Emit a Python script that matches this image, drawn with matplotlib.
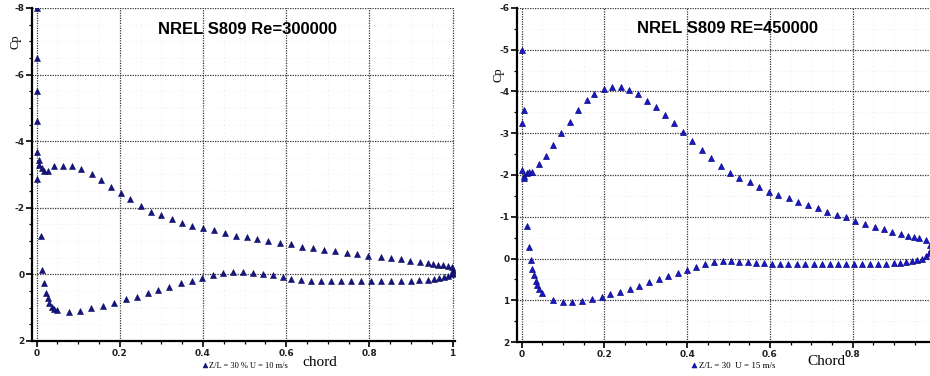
import numpy as np
import matplotlib.pyplot as plt
from matplotlib.ticker import MultipleLocator

# NREL S809, Re = 300000 (suction side / pressure side)
x_up_300 = [0.0, 0.0, 0.0, 0.001, 0.002, 0.005, 0.007, 0.012, 0.019, 0.027,
            0.043, 0.063, 0.084, 0.108, 0.133, 0.154, 0.178, 0.202, 0.224,
            0.251, 0.275, 0.299, 0.325, 0.349, 0.373, 0.4, 0.427, 0.453, 0.48,
            0.506, 0.53, 0.557, 0.586, 0.612, 0.639, 0.665, 0.692, 0.718, 0.747,
            0.771, 0.798, 0.827, 0.851, 0.875, 0.899, 0.923, 0.94, 0.954, 0.966,
            0.978, 0.988, 0.998, 1.0]
cp_up_300 = [-8.0, -6.5, -5.5, -4.6, -3.68, -3.44, -3.29, -3.2, -3.1, -3.1,
             -3.26, -3.26, -3.26, -3.17, -3.0, -2.83, -2.62, -2.44, -2.26,
             -2.05, -1.87, -1.78, -1.66, -1.54, -1.45, -1.39, -1.33, -1.24, -1.15,
             -1.12, -1.06, -1.0, -0.94, -0.91, -0.82, -0.79, -0.73, -0.7, -0.64,
             -0.61, -0.55, -0.52, -0.49, -0.46, -0.4, -0.37, -0.34, -0.31, -0.28,
             -0.28, -0.25, -0.22, -0.13]
x_lo_300 = [0.002, 0.01, 0.012, 0.017, 0.022, 0.027, 0.031, 0.036, 0.043, 0.05,
            0.077, 0.104, 0.132, 0.159, 0.186, 0.214, 0.241, 0.267, 0.292, 0.318,
            0.347, 0.373, 0.398, 0.424, 0.448, 0.472, 0.496, 0.52, 0.544, 0.568,
            0.592, 0.612, 0.636, 0.66, 0.684, 0.708, 0.732, 0.756, 0.78, 0.804,
            0.828, 0.852, 0.876, 0.9, 0.92, 0.94, 0.955, 0.968, 0.98, 0.99,
            0.998, 1.0]
cp_lo_300 = [-2.87, -1.15, -0.13, 0.26, 0.56, 0.71, 0.86, 0.98, 1.04, 1.07,
             1.13, 1.1, 1.01, 0.95, 0.86, 0.74, 0.68, 0.56, 0.47, 0.38,
             0.26, 0.2, 0.11, 0.02, -0.04, -0.07, -0.07, -0.04, -0.01, 0.02,
             0.08, 0.14, 0.17, 0.19, 0.2, 0.2, 0.2, 0.2, 0.2, 0.2,
             0.2, 0.2, 0.2, 0.19, 0.18, 0.16, 0.14, 0.11, 0.08, 0.05,
             0.0, -0.05]

# NREL S809, Re = 450000
x_up_450 = [0.002, 0.005, 0.002, 0.002, 0.005, 0.007, 0.012, 0.019, 0.026, 0.041,
            0.06, 0.077, 0.096, 0.116, 0.137, 0.157, 0.176, 0.198, 0.219, 0.241,
            0.26, 0.282, 0.304, 0.325, 0.347, 0.369, 0.39, 0.412, 0.436, 0.458,
            0.482, 0.504, 0.525, 0.552, 0.573, 0.598, 0.619, 0.646, 0.667, 0.692,
            0.716, 0.737, 0.761, 0.783, 0.805, 0.829, 0.853, 0.875, 0.896, 0.916,
            0.933, 0.947, 0.961, 0.978, 0.986, 0.988]
cp_up_450 = [-5.0, -3.56, -3.25, -2.12, -1.98, -1.93, -2.05, -2.07, -2.07, -2.26,
             -2.46, -2.72, -3.0, -3.27, -3.56, -3.8, -3.94, -4.06, -4.1, -4.1,
             -4.04, -3.94, -3.77, -3.63, -3.44, -3.25, -3.03, -2.81, -2.6, -2.41,
             -2.22, -2.05, -1.93, -1.83, -1.71, -1.59, -1.52, -1.45, -1.35, -1.28,
             -1.21, -1.11, -1.04, -0.99, -0.9, -0.83, -0.75, -0.71, -0.63, -0.59,
             -0.54, -0.51, -0.49, -0.44, -0.32, -0.16]
x_lo_450 = [0.012, 0.017, 0.024, 0.026, 0.029, 0.034, 0.038, 0.043, 0.05, 0.075,
            0.099, 0.123, 0.147, 0.171, 0.195, 0.214, 0.239, 0.263, 0.284, 0.308,
            0.333, 0.354, 0.378, 0.4, 0.422, 0.443, 0.465, 0.487, 0.506, 0.525,
            0.547, 0.566, 0.586, 0.605, 0.624, 0.643, 0.665, 0.684, 0.706, 0.726,
            0.745, 0.764, 0.783, 0.802, 0.822, 0.841, 0.86, 0.88, 0.9, 0.915,
            0.929, 0.944, 0.956, 0.968, 0.978, 0.984, 0.988]
cp_lo_450 = [-0.78, -0.27, 0.04, 0.25, 0.4, 0.54, 0.64, 0.73, 0.83, 0.99,
             1.05, 1.05, 1.02, 0.97, 0.92, 0.85, 0.8, 0.73, 0.66, 0.56,
             0.49, 0.42, 0.35, 0.28, 0.2, 0.13, 0.09, 0.06, 0.06, 0.08,
             0.08, 0.1, 0.11, 0.12, 0.12, 0.13, 0.13, 0.13, 0.13, 0.13,
             0.13, 0.13, 0.13, 0.13, 0.13, 0.12, 0.12, 0.12, 0.11, 0.1,
             0.08, 0.06, 0.04, 0.0, -0.06, -0.12, -0.22]

W, H = 930, 376
fig = plt.figure(figsize=(W / 100, H / 100), dpi=100)


def axes_px(x0, x1, y0, y1):
    return fig.add_axes([x0 / W, 1 - y1 / H, (x1 - x0) / W, (y1 - y0) / H])


def style(ax, ylo, yhi, ystep, xticks, xlabels):
    ax.set_xlim(-0.011, 1.006)
    ax.set_ylim(yhi, ylo)
    ax.set_yticks(np.arange(ylo, yhi + 0.1, ystep))
    ax.set_yticklabels([f"{v:g}" for v in np.arange(ylo, yhi + 0.1, ystep)])
    ax.set_xticks(xticks)
    ax.set_xticklabels(xlabels)
    ax.xaxis.set_minor_locator(MultipleLocator(0.05))
    ax.yaxis.set_minor_locator(MultipleLocator(0.5))
    ax.grid(True, which="major", color="#333333", ls=(0, (1, 1)), lw=0.9)
    ax.grid(True, which="minor", color="#e4e4e4", ls=(0, (1, 4)), lw=0.6)
    ax.set_axisbelow(True)
    for s in ("top", "right"):
        ax.spines[s].set_visible(False)
    for s in ("left", "bottom"):
        ax.spines[s].set_linewidth(1.6)
    ax.tick_params(which="major", direction="out", length=4, width=1.2,
                   labelsize=6.5, pad=1.5)
    ax.tick_params(which="minor", direction="out", length=2.5, width=0.9)
    for lab in ax.get_xticklabels() + ax.get_yticklabels():
        lab.set_fontweight("bold")
        lab.set_color("#222222")


# left panel
ax1 = axes_px(32, 455, 8, 341)
ax1.plot(x_up_300, cp_up_300, "^", color="#15157f", ms=5, mec="#0a0a60", mew=0.4,
         label="Z/L = 30 % U = 10 m/s")
ax1.plot(x_lo_300, cp_lo_300, "^", color="#15157f", ms=5, mec="#0a0a60", mew=0.4)
style(ax1, -8, 2, 2, [0, 0.2, 0.4, 0.6, 0.8, 1], ["0", "0.2", "0.4", "0.6", "0.8", "1"])
ax1.text(0.51, 0.935, "NREL S809 Re=300000", transform=ax1.transAxes, ha="center",
         va="center", fontsize=12, fontweight="bold", family="Liberation Sans")
ax1.set_ylabel("Cp", family="Liberation Serif", fontsize=9, labelpad=2)
ax1.yaxis.set_label_coords(-0.025, 0.9)
ax1.set_xlabel("chord", family="Liberation Serif", fontsize=11)
ax1.xaxis.set_label_coords(0.68, -0.045)
ax1.legend(loc="center left", bbox_to_anchor=(198 / W, 1 - 366 / H),
           bbox_transform=fig.transFigure, frameon=False,
           prop={"family": "Liberation Serif", "size": 6}, handlelength=0.6,
           handletextpad=0.2, borderpad=0, markerscale=0.7)

# right panel (its x = 1 edge runs past the picture's right border)
ax2 = axes_px(517, 938, 8, 342)
ax2.plot(x_up_450, cp_up_450, "^", color="#1818c8", ms=5, mec="#0c0c80", mew=0.5,
         label="Z/L = 30  U = 15 m/s")
ax2.plot(x_lo_450, cp_lo_450, "^", color="#1818c8", ms=5, mec="#0c0c80", mew=0.5)
style(ax2, -6, 2, 1, [0, 0.2, 0.4, 0.6, 0.8, 1], ["0", "0.2", "0.4", "0.6", "0.8", ""])
ax2.text(0.5, 0.94, "NREL S809 RE=450000", transform=ax2.transAxes, ha="center",
         va="center", fontsize=12, fontweight="bold", family="Liberation Sans")
ax2.set_ylabel("Cp", family="Liberation Serif", fontsize=9, labelpad=2)
ax2.yaxis.set_label_coords(-0.03, 0.8)
ax2.set_xlabel("Chord", family="Liberation Serif", fontsize=11)
ax2.xaxis.set_label_coords(0.736, -0.04)
ax2.legend(loc="center left", bbox_to_anchor=(687 / W, 1 - 366 / H),
           bbox_transform=fig.transFigure, frameon=False,
           prop={"family": "Liberation Serif", "size": 6.5}, handlelength=0.6,
           handletextpad=0.2, borderpad=0, markerscale=0.7)

fig.savefig("out.png", dpi=100)
